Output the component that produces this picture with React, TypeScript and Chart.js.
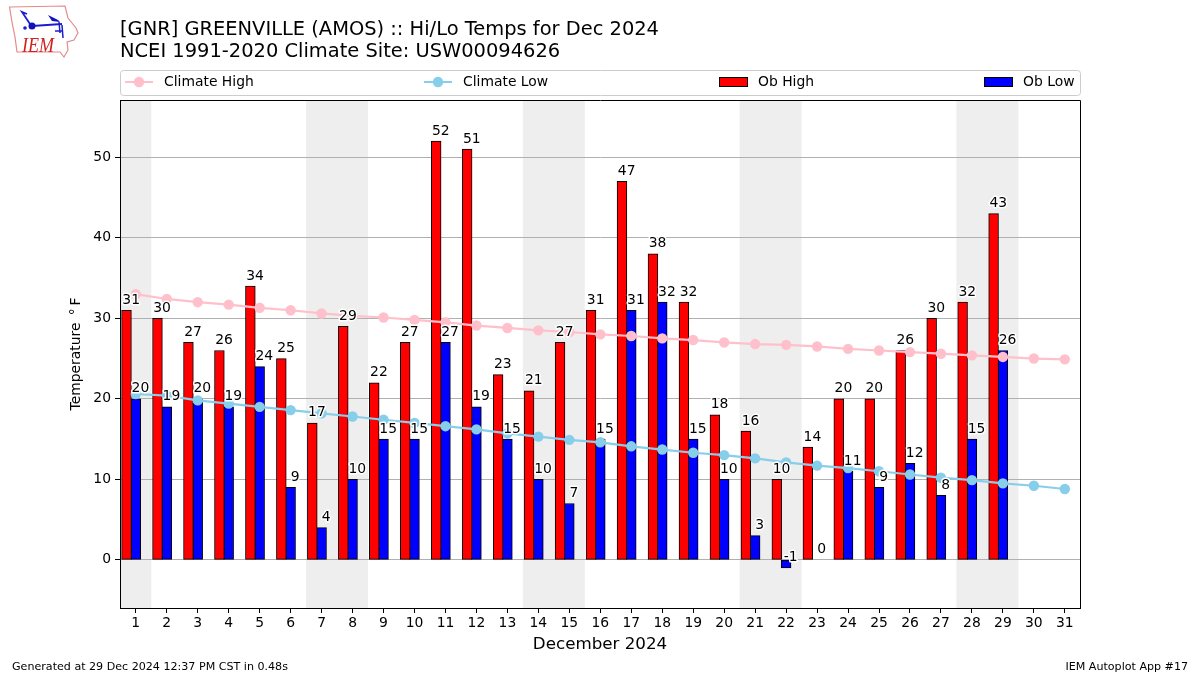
import React, { useEffect, useRef } from "react";
import { Chart, registerables } from "chart.js";

Chart.register(...registerables);

const days = [1,2,3,4,5,6,7,8,9,10,11,12,13,14,15,16,17,18,19,20,21,22,23,24,25,26,27,28,29,30,31];
const obHigh = [31,30,27,26,34,25,17,29,22,27,52,51,23,21,27,31,47,38,32,18,16,10,14,20,20,26,30,32,43];
const obLow = [20,19,20,19,24,9,4,10,15,15,27,19,15,10,7,15,31,32,15,10,3,-1,0,11,9,12,8,15,26];
const climateHigh = [33,32.4,32,31.7,31.3,31,30.6,30.3,30.1,29.8,29.5,29.1,28.8,28.5,28.3,28,27.8,27.5,27.3,27,26.8,26.7,26.5,26.2,26,25.8,25.6,25.4,25.2,25,24.9];
const climateLow = [20.6,20.4,19.8,19.4,19,18.6,18.2,17.8,17.4,17,16.6,16.2,15.7,15.3,14.9,14.6,14.1,13.7,13.3,13,12.6,12.1,11.7,11.4,11,10.6,10.2,9.9,9.5,9.2,8.8];
const weekendSpans = [[0.5,1.5],[6.5,8.5],[13.5,15.5],[20.5,22.5],[27.5,29.5]];
const titleLines = ["[GNR] GREENVILLE (AMOS) :: Hi/Lo Temps for Dec 2024", "NCEI 1991-2020 Climate Site: USW00094626"];
const footerLeft = "Generated at 29 Dec 2024 12:37 PM CST in 0.48s";
const footerRight = "IEM Autoplot App #17";

const FONT = '"DejaVu Sans", sans-serif';
const BAR_OFFSET = 0.3;
const LABEL_OFFSET = 0.15;

const bandsPlugin = {
  id: "bands",
  beforeDraw(chart: any) {
    const { ctx, chartArea: a, scales: { x } } = chart;
    ctx.save();
    ctx.fillStyle = "#eeeeee";
    for (const [s, e] of weekendSpans) {
      const l = Math.max(a.left, x.getPixelForValue(s)), r = x.getPixelForValue(e);
      ctx.fillRect(l, a.top, r - l, a.bottom - a.top);
    }
    ctx.restore();
  },
};

const annotatePlugin = {
  id: "annotate",
  afterDatasetsDraw(chart: any) {
    const { ctx, chartArea: a, scales: { x, y } } = chart;
    ctx.save();
    ctx.font = `13.9px ${FONT}`;
    ctx.textAlign = "center";
    ctx.textBaseline = "alphabetic";
    ctx.lineJoin = "round";
    const put = (arr: number[], off: number) => {
      arr.forEach((v, i) => {
        const px = x.getPixelForValue(days[i] + off);
        const py = y.getPixelForValue(v) - 6.5;
        ctx.strokeStyle = "#ffffff";
        ctx.lineWidth = 3;
        ctx.strokeText(String(v), px, py);
        ctx.fillStyle = "#000000";
        ctx.fillText(String(v), px, py);
      });
    };
    put(obHigh, -LABEL_OFFSET);
    put(obLow, LABEL_OFFSET);
    ctx.strokeStyle = "#000000";
    ctx.lineWidth = 1;
    ctx.strokeRect(a.left + 0.5, a.top + 0.5, a.right - a.left, a.bottom - a.top);
    ctx.restore();
  },
};

const headerPlugin = {
  id: "header",
  afterDraw(chart: any) {
    const { ctx, data, chartArea: a } = chart;
    ctx.save();
    ctx.fillStyle = "#000000";
    ctx.textBaseline = "alphabetic";
    ctx.textAlign = "left";
    ctx.font = `19.44px ${FONT}`;
    ctx.fillText(titleLines[0], 120, 35);
    ctx.fillText(titleLines[1], 120, 57);

    ctx.font = `11.1px ${FONT}`;
    ctx.fillText(footerLeft, 12, 670);
    ctx.textAlign = "right";
    ctx.fillText(footerRight, 1188, 670);

    // legend frame
    ctx.strokeStyle = "#cccccc";
    ctx.lineWidth = 1;
    ctx.beginPath();
    ctx.roundRect(a.left + 0.5, 70.5, a.right - a.left, 25, 3);
    ctx.stroke();

    const cy = 82;
    const slots = [125, 424, 719, 984];
    ctx.font = `13.9px ${FONT}`;
    ctx.textAlign = "left";
    ctx.textBaseline = "middle";
    data.datasets.forEach((d: any) => {
      const sx = slots[d.legendSlot];
      if (d.type === "line") {
        ctx.strokeStyle = d.borderColor;
        ctx.lineWidth = 2;
        ctx.beginPath();
        ctx.moveTo(sx, cy);
        ctx.lineTo(sx + 28, cy);
        ctx.stroke();
        ctx.fillStyle = d.borderColor;
        ctx.beginPath();
        ctx.arc(sx + 14, cy, 5.2, 0, Math.PI * 2);
        ctx.fill();
      } else {
        ctx.fillStyle = d.backgroundColor;
        ctx.fillRect(sx + 0.5, cy - 4.5, 28, 9);
        ctx.strokeStyle = "#000000";
        ctx.lineWidth = 1;
        ctx.strokeRect(sx + 0.5, cy - 4.5, 28, 9);
      }
      ctx.fillStyle = "#000000";
      ctx.fillText(d.label, sx + 39, cy);
    });
    ctx.restore();
  },
};

function Logo() {
  return (
    <svg width={90} height={62} style={{ position: "absolute", left: 0, top: 0 }}>
      <path d="M9.5 7 L65 6 L68 18 L76 28 L78 33 L74 40 L67 42 L68 50 L64 57 L60 52 L17 52 L15 37 L12 22 Z" fill="#fff" stroke="#e58a8a" strokeWidth={1.2} />
      <path d="M27 14 L22 12 L30 24 M32 26 L62 24" fill="none" stroke="#1c1cd0" strokeWidth={1.8} />
      <circle cx={32} cy={26} r={3.5} fill="#1010c0" />
      <path d="M48 15 L58 20 L60 22 L52 21 Z" fill="#1010c0" />
      <path d="M59 22 L60 33 M55 31 L63 31 M62 25 L63 38" stroke="#1c1cd0" strokeWidth={1.5} fill="none" />
      <circle cx={25} cy={28} r={1.8} fill="#1c1cd0" />
      <text x={22} y={52} fontFamily='"Liberation Serif", serif' fontStyle="italic" fontSize={21} textLength={32} lengthAdjust="spacingAndGlyphs" fill="#d02020">IEM</text>
    </svg>
  );
}

export default function App() {
  const ref = useRef<HTMLCanvasElement>(null);
  useEffect(() => {
    const chart = new Chart(ref.current as HTMLCanvasElement, {
      type: "bar",
      data: {
        datasets: [
          { type: "line", label: "Climate High", legendSlot: 0, data: days.map((d, i) => ({ x: d, y: climateHigh[i] })), borderColor: "#ffc0cb", backgroundColor: "#ffc0cb", borderWidth: 2.2, pointRadius: 5.2, pointBorderWidth: 0, tension: 0, order: 1 },
          { type: "line", label: "Climate Low", legendSlot: 1, data: days.map((d, i) => ({ x: d, y: climateLow[i] })), borderColor: "#87ceeb", backgroundColor: "#87ceeb", borderWidth: 2.2, pointRadius: 5.2, pointBorderWidth: 0, tension: 0, order: 1 },
          { type: "bar", label: "Ob High", legendSlot: 2, data: obHigh.map((v, i) => ({ x: days[i] - BAR_OFFSET, y: v })), backgroundColor: "#ff0000", borderColor: "#000000", borderWidth: 1, borderSkipped: false, barThickness: 9.8, grouped: false, order: 2 },
          { type: "bar", label: "Ob Low", legendSlot: 3, data: obLow.map((v, i) => ({ x: days[i], y: v })), backgroundColor: "#0000ff", borderColor: "#000000", borderWidth: 1, borderSkipped: false, barThickness: 9.8, grouped: false, order: 2 },
        ] as any,
      },
      plugins: [bandsPlugin, annotatePlugin, headerPlugin],
      options: {
        animation: false,
        responsive: false,
        devicePixelRatio: 1,
        layout: { padding: { top: 100, right: 120, left: 0, bottom: 0 } },
        plugins: { legend: { display: false }, title: { display: false }, tooltip: { enabled: false } },
        scales: {
          x: {
            type: "linear",
            offset: false,
            min: 0.49,
            max: 31.49,
            afterFit(s: any) { s.height = 67; },
            afterBuildTicks(s: any) { s.ticks = days.map((d) => ({ value: d })); },
            grid: { drawOnChartArea: false, offset: false, tickColor: "#000", tickLength: 5, tickWidth: 1 },
            border: { color: "#000" },
            ticks: { autoSkip: false, maxRotation: 0, color: "#000", font: { family: FONT, size: 13.9 }, padding: 2, callback: (v: any) => String(v) },
            title: { display: true, text: "December 2024", color: "#000", font: { family: FONT, size: 16.7 }, padding: { top: 0, bottom: 20 } },
          },
          y: {
            type: "linear",
            min: -5.98,
            max: 57.11,
            afterFit(s: any) { s.width = 120; },
            grid: { color: "#b0b0b0", lineWidth: 1, tickColor: "#000", tickLength: 5, tickWidth: 1 },
            border: { color: "#000" },
            ticks: { stepSize: 10, includeBounds: false, color: "#000", font: { family: FONT, size: 13.9 }, padding: 4 },
            title: { display: true, text: "Temperature \u2009\u00b0\u2009F", color: "#000", font: { family: FONT, size: 13.9 }, padding: { top: 68, bottom: 0 } },
          },
        },
      } as any,
    });
    return () => chart.destroy();
  }, []);
  return (
    <div style={{ position: "absolute", left: 0, top: 0, width: 1200, height: 675, background: "#fff" }}>
      <canvas ref={ref} width={1200} height={675} style={{ display: "block" }} />
      <Logo />
    </div>
  );
}
